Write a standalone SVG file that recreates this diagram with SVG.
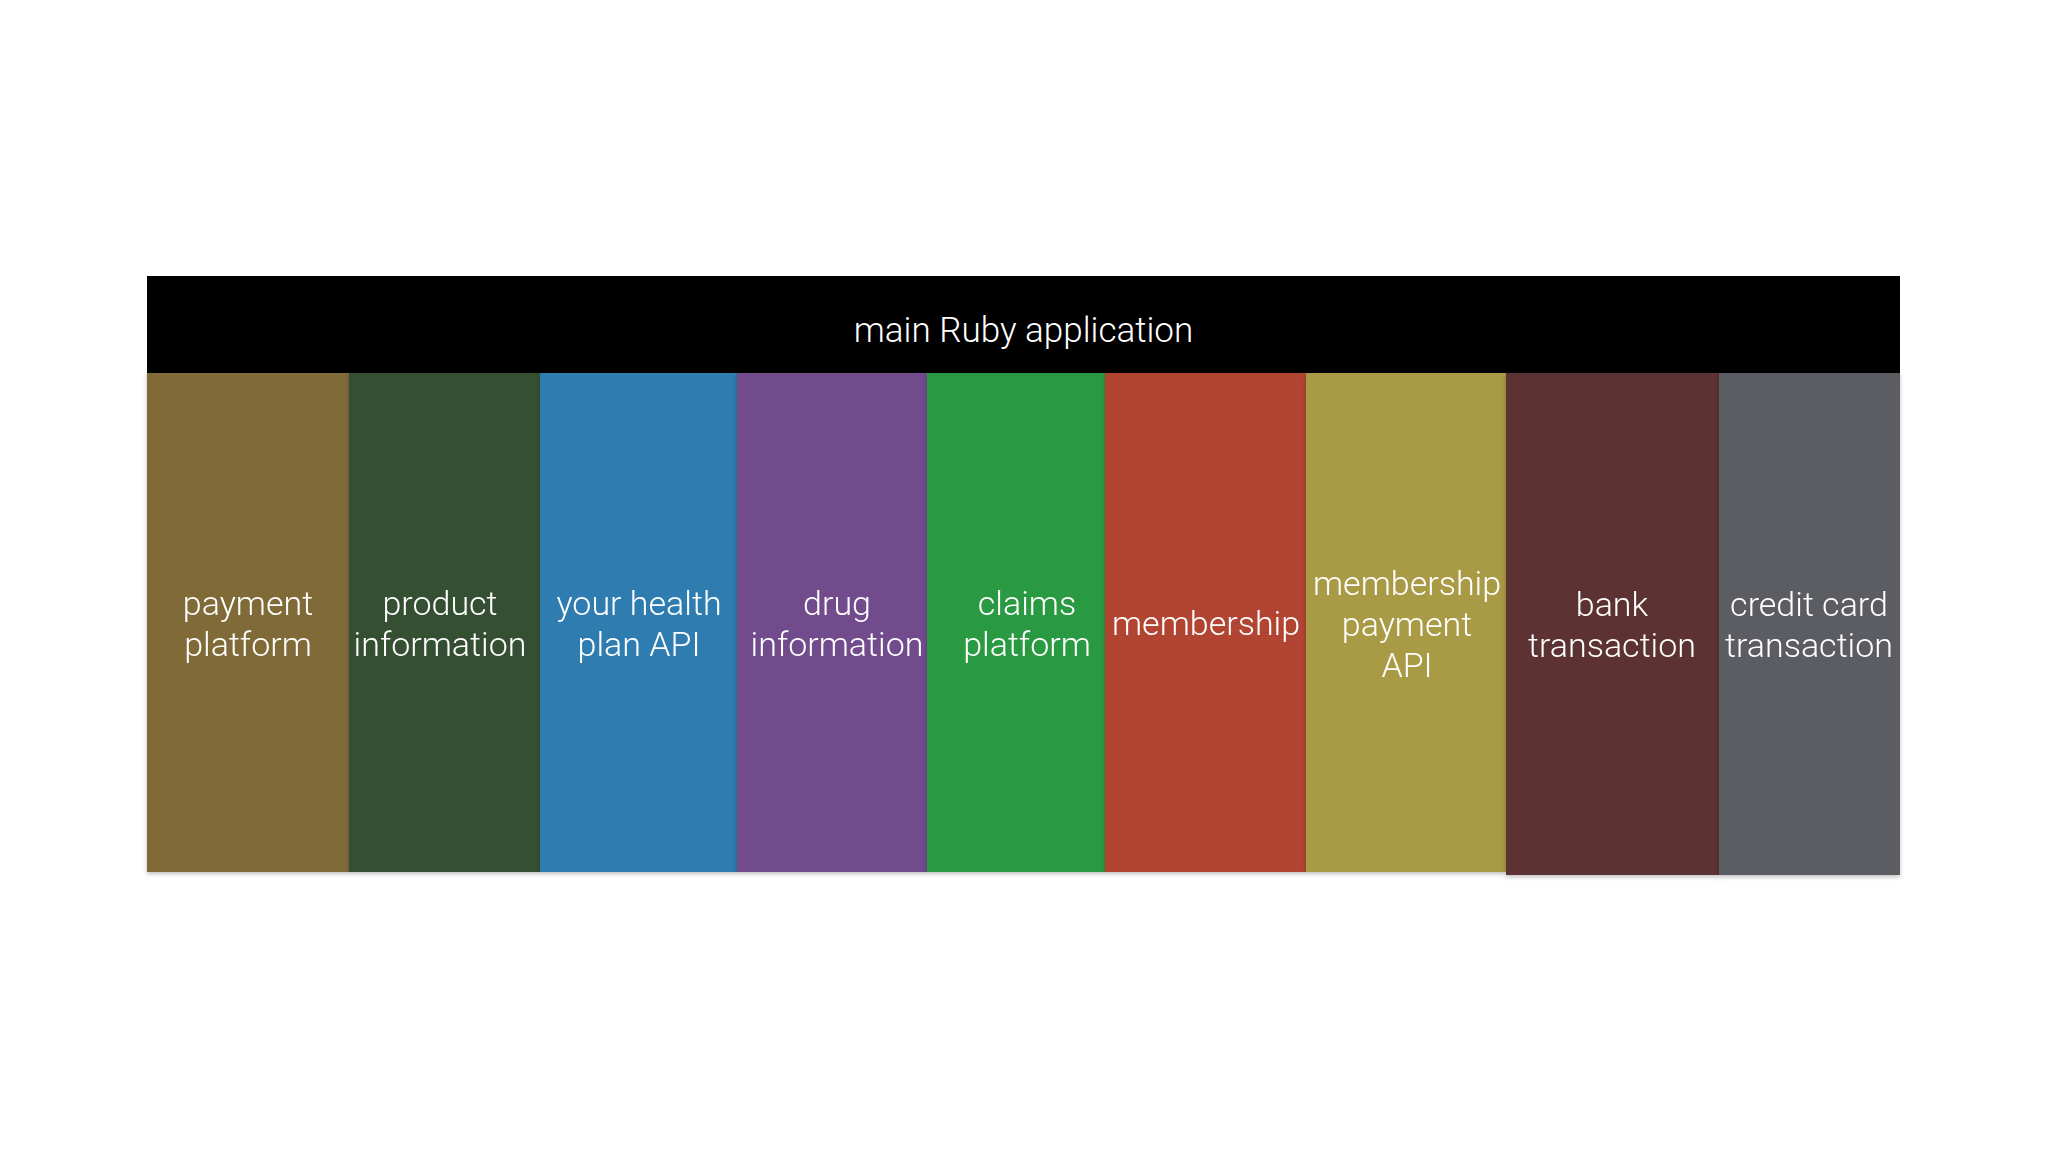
<svg xmlns="http://www.w3.org/2000/svg" width="2048" height="1152" viewBox="0 0 2048 1152">
  <style>
    .lbl { font-family: "Roboto", "Liberation Sans", sans-serif; font-weight: 300; font-size: 34px; fill: #ffffff; text-anchor: middle; }
    .title { font-size: 35px; }
    .col { stroke: none; }
  </style>
  <defs>
    <filter id="shadow" x="-5%" y="-5%" width="110%" height="115%">
      <feDropShadow dx="0" dy="2" stdDeviation="2" flood-color="#000" flood-opacity="0.25"/>
    </filter>
  </defs>
  <rect x="0" y="0" width="2048" height="1152" fill="#ffffff"/>

  <g id="main-app">
    <rect x="147" y="276" width="1753" height="98" fill="#000000"/>
    <text class="lbl title" x="1023.5" y="342">main Ruby application</text>
  </g>

  <g id="payment-platform" filter="url(#shadow)">
    <rect class="col" x="147" y="373" width="202" height="499" fill="#7f6a37"/>
    <text class="lbl" x="248" y="615">payment</text>
    <text class="lbl" x="248" y="656">platform</text>
  </g>
  <g id="product-information" filter="url(#shadow)">
    <rect class="col" x="349" y="373" width="191" height="499" fill="#344f33"/>
    <text class="lbl" x="440" y="615">product</text>
    <text class="lbl" x="440" y="656">information</text>
  </g>
  <g id="your-health-plan-api" filter="url(#shadow)">
    <rect class="col" x="540" y="373" width="197" height="499" fill="#2e7cb0"/>
    <text class="lbl" x="639" y="615">your health</text>
    <text class="lbl" x="639" y="656">plan API</text>
  </g>
  <g id="drug-information" filter="url(#shadow)">
    <rect class="col" x="737" y="373" width="190" height="499" fill="#714b8c"/>
    <text class="lbl" x="837" y="615">drug</text>
    <text class="lbl" x="837" y="656">information</text>
  </g>
  <g id="claims-platform" filter="url(#shadow)">
    <rect class="col" x="927" y="373" width="178" height="499" fill="#2c9a42"/>
    <text class="lbl" x="1027" y="615">claims</text>
    <text class="lbl" x="1027" y="656">platform</text>
  </g>
  <g id="membership" filter="url(#shadow)">
    <rect class="col" x="1105" y="373" width="201" height="499" fill="#b24532"/>
    <text class="lbl" x="1206" y="635">membership</text>
  </g>
  <g id="membership-payment-api" filter="url(#shadow)">
    <rect class="col" x="1306" y="373" width="200" height="499" fill="#a99a45"/>
    <text class="lbl" x="1407" y="595">membership</text>
    <text class="lbl" x="1407" y="636">payment</text>
    <text class="lbl" x="1407" y="677">API</text>
  </g>
  <g id="bank-transaction" filter="url(#shadow)">
    <rect class="col" x="1506" y="373" width="213" height="502" fill="#5c3131"/>
    <text class="lbl" x="1612" y="616">bank</text>
    <text class="lbl" x="1612" y="657">transaction</text>
  </g>
  <g id="credit-card-transaction" filter="url(#shadow)">
    <rect class="col" x="1719" y="373" width="181" height="502" fill="#5b5b63"/>
    <text class="lbl" x="1809" y="616">credit card</text>
    <text class="lbl" x="1809" y="657">transaction</text>
  </g>

  <g id="connectors"></g>
</svg>
